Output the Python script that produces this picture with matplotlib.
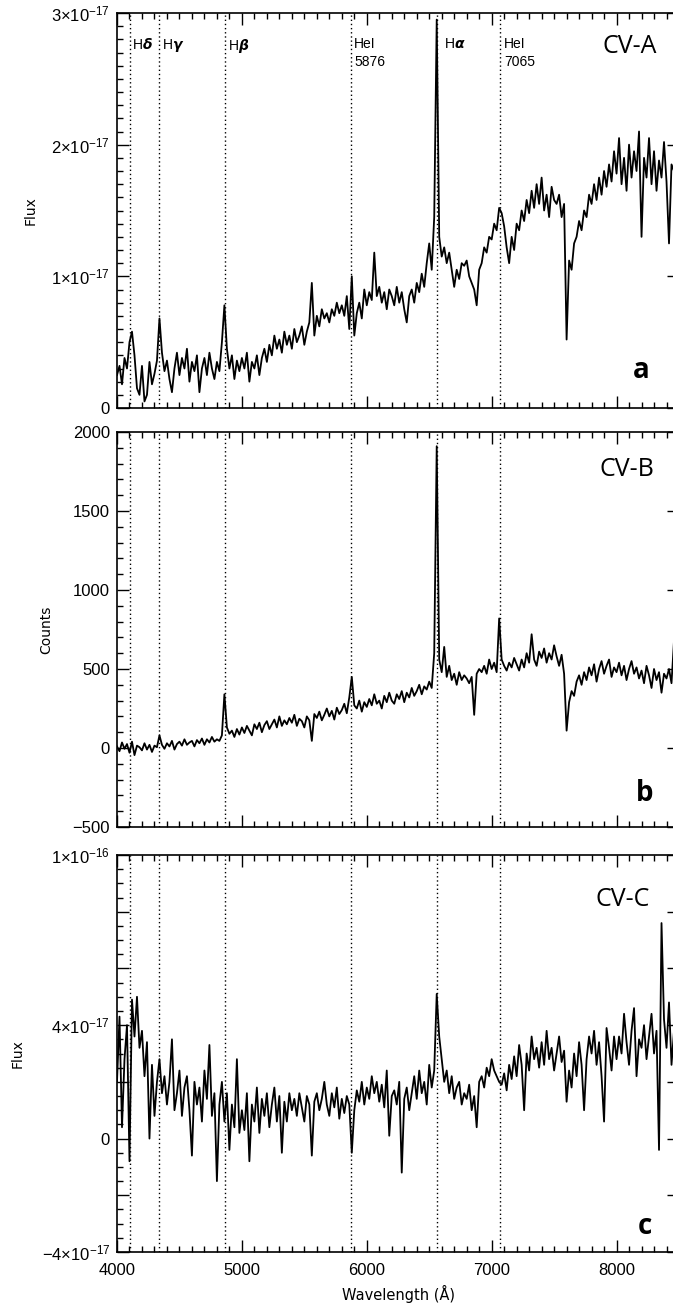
import numpy as np
import matplotlib.pyplot as plt
from matplotlib.ticker import MultipleLocator

# wavelength grid of the read-off values (Angstrom)
wave = np.arange(4000, 8461, 20)

# CV-A flux, units of 1e-17
flux_a = [
    0.25, 0.32, 0.18, 0.38, 0.30, 0.50, 0.58, 0.40, 0.15, 0.10,
    0.32, 0.05, 0.10, 0.35, 0.18, 0.26, 0.36, 0.68, 0.42, 0.28,
    0.36, 0.22, 0.12, 0.30, 0.42, 0.25, 0.38, 0.30, 0.45, 0.20,
    0.35, 0.28, 0.40, 0.12, 0.30, 0.38, 0.25, 0.42, 0.30, 0.22,
    0.35, 0.28, 0.50, 0.78, 0.45, 0.30, 0.40, 0.22, 0.36, 0.28,
    0.38, 0.30, 0.42, 0.20, 0.35, 0.30, 0.40, 0.25, 0.38, 0.45,
    0.35, 0.48, 0.40, 0.55, 0.45, 0.52, 0.42, 0.58, 0.48, 0.55,
    0.45, 0.60, 0.50, 0.55, 0.62, 0.48, 0.58, 0.65, 0.95, 0.55,
    0.70, 0.62, 0.75, 0.68, 0.72, 0.65, 0.75, 0.70, 0.80, 0.72,
    0.78, 0.70, 0.85, 0.60, 1.00, 0.55, 0.72, 0.80, 0.68, 0.90,
    0.78, 0.88, 0.82, 1.18, 0.85, 0.92, 0.80, 0.88, 0.75, 0.90,
    0.85, 0.78, 0.92, 0.80, 0.88, 0.75, 0.65, 0.85, 0.90, 0.80,
    0.95, 0.88, 1.02, 0.92, 1.10, 1.25, 1.05, 1.45, 2.95, 1.30,
    1.15, 1.22, 1.10, 1.18, 1.05, 0.92, 1.05, 0.98, 1.10, 1.08,
    1.12, 1.00, 0.95, 0.90, 0.78, 1.05, 1.10, 1.22, 1.18, 1.30,
    1.28, 1.40, 1.35, 1.52, 1.48, 1.38, 1.22, 1.10, 1.30, 1.20,
    1.40, 1.35, 1.50, 1.42, 1.58, 1.48, 1.65, 1.52, 1.70, 1.55,
    1.75, 1.50, 1.62, 1.45, 1.68, 1.58, 1.55, 1.62, 1.45, 1.55,
    0.52, 1.12, 1.05, 1.25, 1.30, 1.42, 1.35, 1.50, 1.45, 1.62,
    1.55, 1.70, 1.58, 1.75, 1.62, 1.80, 1.68, 1.85, 1.72, 1.95,
    1.78, 2.05, 1.70, 1.90, 1.65, 2.00, 1.75, 1.95, 1.80, 2.10,
    1.30, 1.90, 1.75, 2.05, 1.70, 1.95, 1.65, 1.88, 1.75, 2.02,
    1.72, 1.25, 1.85, 1.80,
]

# CV-B counts
counts_b = [
    10, -20, 35, -5, 25, -30, 40, -45, 15, 5,
    -15, 30, -10, 20, -25, 15, 5, 80, 20, -5,
    30, 10, 45, -10, 25, 40, 15, 55, 20, 35,
    45, 10, 50, 30, 60, 20, 55, 35, 70, 40,
    55, 45, 80, 340, 130, 90, 110, 70, 120, 85,
    130, 95, 140, 110, 80, 150, 120, 160, 100, 145,
    170, 120, 150, 180, 130, 200, 140, 175, 150, 190,
    160, 210, 140, 185, 170, 130, 200, 175, 45, 215,
    190, 230, 175, 210, 250, 200, 235, 180, 255, 215,
    240, 280, 220, 320, 450, 270, 250, 300, 230, 290,
    260, 310, 270, 340, 280, 300, 250, 330, 290, 350,
    300, 280, 340, 310, 360, 290, 350, 320, 380, 330,
    360, 400, 340, 390, 370, 420, 380, 600, 1910, 560,
    480, 640, 450, 520, 430, 470, 400, 480, 430, 460,
    440, 410, 450, 210, 470, 500, 480, 520, 470, 560,
    500, 540, 480, 820, 560, 520, 490, 540, 510, 570,
    530, 490, 560, 510, 600, 540, 720, 560, 520, 610,
    570, 630, 540, 600, 560, 650, 580, 520, 590, 470,
    110, 290, 360, 330, 420, 460, 400, 480, 430, 510,
    460, 530, 420, 500, 550, 470, 520, 560, 450, 510,
    480, 540, 460, 520, 430, 500, 550, 470, 510, 440,
    490, 410, 520, 460, 380, 500, 430, 480, 350, 470,
    440, 500, 410, 680,
]

# CV-C flux, units of 1e-17
flux_c = [
    2.0, 4.3, 0.4, 2.8, 4.0, -0.8, 4.9, 3.6, 5.0, 3.2,
    3.8, 2.2, 3.4, 0.0, 2.6, 0.8, 2.0, 2.8, 1.6, 2.2,
    1.2, 2.0, 3.5, 1.0, 1.6, 2.4, 0.8, 1.8, 2.2, 1.0,
    -0.6, 2.0, 1.2, 1.8, 0.6, 2.4, 1.4, 3.3, 0.8, 1.6,
    -1.5, 1.2, 2.0, 0.6, 1.6, -0.4, 1.2, 0.4, 2.8, 0.2,
    1.0, 0.3, 1.6, -0.8, 1.2, 0.6, 1.8, 0.2, 1.4, 0.8,
    1.6, 0.4, 1.2, 1.8, 0.6, 1.5, -0.5, 1.3, 0.6, 1.6,
    1.0, 1.4, 0.8, 1.6, 1.1, 0.6, 1.5, 1.2, -0.6, 1.3,
    1.6, 1.0, 1.4, 2.0, 1.2, 0.8, 1.6, 1.1, 1.8, 0.7,
    1.4, 0.9, 1.5, 1.2, -0.5, 1.0, 1.7, 1.3, 2.0, 1.2,
    1.8, 1.4, 2.2, 1.6, 2.0, 1.3, 1.9, 1.1, 2.4, 0.1,
    1.5, 1.7, 1.2, 2.0, -1.2, 1.4, 1.8, 1.0, 1.6, 2.2,
    1.4, 2.4, 1.6, 2.0, 1.2, 2.6, 1.8, 2.4, 5.1, 3.6,
    2.8, 2.0, 2.4, 1.6, 2.2, 1.4, 1.8, 2.0, 1.2, 1.6,
    1.4, 1.9, 1.0, 1.5, 0.4, 2.0, 2.2, 1.8, 2.5, 2.2,
    2.8, 2.4, 2.2, 2.0, 1.9, 2.3, 1.7, 2.6, 2.1, 2.9,
    2.2, 3.3, 2.6, 1.0, 3.0, 2.4, 3.6, 2.8, 3.2, 2.5,
    3.4, 2.6, 3.8, 2.8, 3.2, 2.4, 3.0, 3.6, 2.7, 3.1,
    1.3, 2.4, 1.8, 3.0, 2.2, 3.4, 2.6, 1.0, 2.8, 3.6,
    3.0, 3.8, 2.6, 3.4, 2.2, 0.6, 3.9, 3.2, 2.4, 3.6,
    2.8, 3.6, 3.0, 4.4, 3.4, 2.6, 3.8, 4.6, 2.2, 3.5,
    3.2, 4.0, 2.8, 3.6, 4.4, 3.0, 3.8, -0.4, 7.6, 4.2,
    3.2, 4.8, 2.6, 3.8,
]

# emission lines marked with dotted lines
line_waves = [4102, 4340, 4861, 5876, 6563, 7065]
line_names = ['H$\\mathbfit{\\delta}$', 'H$\\mathbfit{\\gamma}$', 'H$\\mathbfit{\\beta}$',
              'HeI\n5876', 'H$\\mathbfit{\\alpha}$', 'HeI\n7065']
name_x = [4120, 4360, 4890, 5900, 6620, 7100]

plt.rcParams['font.family'] = ['Liberation Sans', 'DejaVu Sans']
plt.rcParams['mathtext.fontset'] = 'dejavusans'
plt.rcParams['mathtext.default'] = 'regular'

W, H = 673, 1305
fig = plt.figure(figsize=(W / 100, H / 100), dpi=100)


def make_axes(top, bottom):
    # axes run a bit past the right edge of the picture, like the original crop
    return fig.add_axes([117 / W, 1 - bottom / H, 562 / W, (bottom - top) / H])


ax_a = make_axes(13, 408)
ax_b = make_axes(432, 827)
ax_c = make_axes(855, 1252)

for ax, vals in [(ax_a, flux_a), (ax_b, counts_b), (ax_c, flux_c)]:
    ax.plot(wave, vals, color='black', lw=1.3)
    for lam in line_waves:
        ax.axvline(lam, color='black', lw=1.0, ls=(0, (1, 2)))
    ax.set_xlim(4000, 8500)
    ax.xaxis.set_major_locator(MultipleLocator(1000))
    ax.xaxis.set_minor_locator(MultipleLocator(100))
    ax.tick_params(which='both', direction='in', top=True, right=True,
                   labelsize=12, width=1)
    ax.tick_params(which='major', length=8.5)
    ax.tick_params(which='minor', length=4.3)
    ax.tick_params(axis='y', pad=5)
    for s in ax.spines.values():
        s.set_linewidth(1.2)

# panel a
ax_a.set_ylim(0, 3)
ax_a.set_yticks([0, 1, 2, 3])
ax_a.set_yticklabels(['0', '$1{\\times}10^{-17}$', '$2{\\times}10^{-17}$', '$3{\\times}10^{-17}$'])
ax_a.yaxis.set_minor_locator(MultipleLocator(0.1))
ax_a.tick_params(labelbottom=False)
ax_a.set_ylabel('Flux', family='DejaVu Sans', fontsize=10)
ax_a.yaxis.set_label_coords(-0.142, 0.5)
for lam, name in zip(name_x, line_names):
    ax_a.text(lam, 2.82, name, fontsize=10, ha='left', va='top', linespacing=1.4)
ax_a.text(0.913, 0.914, 'CV-A', transform=ax_a.transAxes, family='Open Sans',
          fontsize=18, ha='center', va='center')
ax_a.text(0.932, 0.096, 'a', transform=ax_a.transAxes, family='Open Sans',
          fontsize=20, weight='bold', ha='center', va='center')

# panel b
ax_b.set_ylim(-500, 2000)
ax_b.yaxis.set_major_locator(MultipleLocator(500))
ax_b.yaxis.set_minor_locator(MultipleLocator(100))
ax_b.tick_params(labelbottom=False)
ax_b.set_ylabel('Counts', family='DejaVu Sans', fontsize=10)
ax_b.yaxis.set_label_coords(-0.114, 0.5)
ax_b.text(0.907, 0.906, 'CV-B', transform=ax_b.transAxes, family='Open Sans',
          fontsize=18, ha='center', va='center')
ax_b.text(0.938, 0.086, 'b', transform=ax_b.transAxes, family='Open Sans',
          fontsize=20, weight='bold', ha='center', va='center')

# panel c
ax_c.set_ylim(-4, 10)
ax_c.set_yticks([-4, -2, 0, 2, 4, 6, 8, 10])
ax_c.set_yticklabels(['$-4{\\times}10^{-17}$', '', '0', '', '$4{\\times}10^{-17}$', '', '',
                      '$1{\\times}10^{-16}$'])
ax_c.yaxis.set_minor_locator(MultipleLocator(0.5))
ax_c.tick_params(axis='x', pad=8)
ax_c.set_ylabel('Flux', family='DejaVu Sans', fontsize=10)
ax_c.yaxis.set_label_coords(-0.164, 0.5)
ax_c.set_xlabel('Wavelength (Å)', family='DejaVu Sans', fontsize=10.5, labelpad=5)
ax_c.text(0.900, 0.887, 'CV-C', transform=ax_c.transAxes, family='Open Sans',
          fontsize=18, ha='center', va='center')
ax_c.text(0.940, 0.065, 'c', transform=ax_c.transAxes, family='Open Sans',
          fontsize=20, weight='bold', ha='center', va='center')

fig.savefig('out.png', dpi=100)
